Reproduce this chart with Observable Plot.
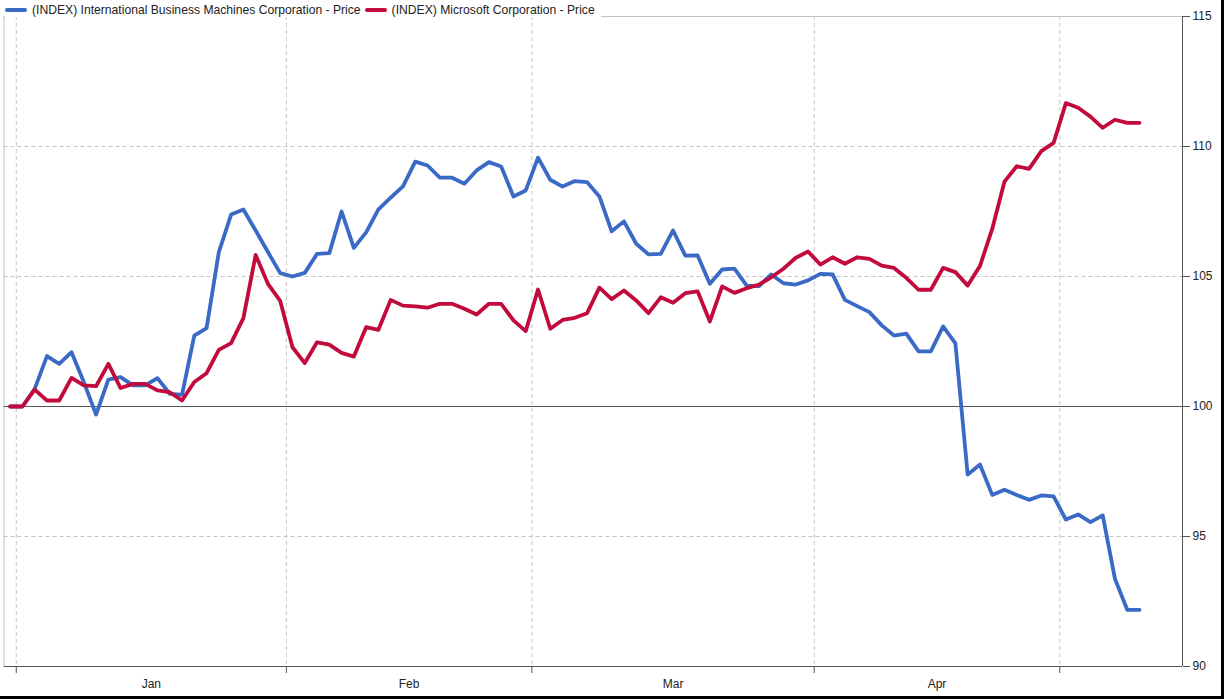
<!DOCTYPE html>
<html>
<head>
<meta charset="utf-8">
<script src="https://cdn.jsdelivr.net/npm/d3@7"></script>
<script src="https://cdn.jsdelivr.net/npm/@observablehq/plot@0.6"></script>
<style>
  html, body { margin: 0; padding: 0; background: #fff; }
  #wrap { position: relative; width: 1224px; height: 699px; box-sizing: border-box;
          border-right: 3px solid #000; border-bottom: 3px solid #000; overflow: hidden; }
  #legend { position: absolute; top: 3px; left: 5px; font: 12.15px "Liberation Sans", Arial, sans-serif;
            color: #222; white-space: nowrap; line-height: 14px; z-index: 2; background: #fff; padding-right: 2px; }
  #legend .sw { display: inline-block; width: 22px; height: 4px; border-radius: 2px; vertical-align: middle;
                margin-right: 5px; position: relative; top: -1px; }
  #legend .item { margin-right: 4px; }
</style>
</head>
<body>
<div id="wrap"><div id="legend"></div><div id="chart"></div></div>
<script>
// ---- data (rebased price index, one value per trading day) ----
const seriesNames = ["(INDEX) International Business Machines Corporation - Price",
                     "(INDEX) Microsoft Corporation - Price"];
const seriesColors = ["#3a6ac5", "#c20b3c"];

const ibm = [100, 100, 100.68, 101.94, 101.64, 102.09, 100.94, 99.69, 101.03, 101.13,
  100.81, 100.81, 101.09, 100.49, 100.45, 102.73, 103.01, 105.94, 107.38, 107.58,
  106.77, 105.94, 105.13, 105.0, 105.14, 105.87, 105.9, 107.5, 106.1, 106.7,
  107.58, 108.03, 108.47, 109.42, 109.27, 108.8, 108.8, 108.57, 109.08, 109.4,
  109.23, 108.08, 108.31, 109.57, 108.72, 108.46, 108.67, 108.63, 108.08, 106.74,
  107.12, 106.26, 105.85, 105.87, 106.77, 105.8, 105.81, 104.72, 105.27, 105.3,
  104.65, 104.63, 105.08, 104.74, 104.69, 104.85, 105.1, 105.08, 104.1, 103.86,
  103.63, 103.12, 102.73, 102.8, 102.12, 102.12, 103.08, 102.43, 97.38, 97.77,
  96.6, 96.8, 96.6, 96.41, 96.58, 96.54, 95.65, 95.85, 95.55, 95.81,
  93.37, 92.18, 92.18];

const msft = [100, 100, 100.65, 100.23, 100.23, 101.1, 100.81, 100.78, 101.64, 100.71,
  100.87, 100.87, 100.62, 100.55, 100.23, 100.94, 101.28, 102.18, 102.44, 103.4,
  105.83, 104.72, 104.06, 102.28, 101.67, 102.47, 102.38, 102.06, 101.92, 103.05,
  102.95, 104.1, 103.88, 103.85, 103.8, 103.95, 103.95, 103.76, 103.54, 103.95,
  103.95, 103.31, 102.9, 104.5, 102.99, 103.33, 103.41, 103.59, 104.57, 104.13,
  104.46, 104.08, 103.59, 104.2, 103.99, 104.36, 104.43, 103.27, 104.62, 104.37,
  104.55, 104.69, 104.97, 105.3, 105.72, 105.96, 105.46, 105.74, 105.49, 105.74,
  105.68, 105.42, 105.33, 104.95, 104.49, 104.49, 105.33, 105.17, 104.65, 105.4,
  106.83, 108.65, 109.24, 109.14, 109.82, 110.14, 111.67, 111.49, 111.15, 110.72,
  111.03, 110.91, 110.91];

// month boundaries (in trading-day index) and month labels
const monthBounds = [0.5, 22.5, 42.5, 65.5, 85.5];
const monthLabels = ["Jan", "Feb", "Mar", "Apr"];
const xDomain = [-0.5, 95.5];
const yDomain = [90, 115];
const yTicks = [90, 95, 100, 105, 110, 115];
const yGrid = [95, 105, 110];

// ---- build ----
const ibmData = ibm.map((v, i) => ({i, v}));
const msftData = msft.map((v, i) => ({i, v}));
const monthMid = monthLabels.map((_, k) => (monthBounds[k] + monthBounds[k + 1]) / 2);
const labelByMid = new Map(monthMid.map((m, k) => [m, monthLabels[k]]));

const legend = document.getElementById("legend");
seriesNames.forEach((n, k) => {
  const s = document.createElement("span");
  s.className = "item";
  s.innerHTML = `<span class="sw" style="background:${seriesColors[k]}"></span>`;
  s.appendChild(document.createTextNode(n));
  legend.appendChild(s);
});

const chart = Plot.plot({
  width: 1221,
  height: 696,
  marginLeft: 3.5,
  marginRight: 39,
  marginTop: 16,
  marginBottom: 30,
  style: {fontFamily: '"Liberation Sans", Arial, sans-serif', fontSize: "12px", color: "#222", background: "#fff"},
  x: {domain: xDomain, axis: null},
  y: {domain: yDomain, axis: null},
  marks: [
    Plot.ruleY(yGrid, {stroke: "#c4c4c4", strokeDasharray: "4,3"}),
    Plot.ruleX(monthBounds, {stroke: "#c4c4c4", strokeDasharray: "4,3"}),
    Plot.ruleY([yDomain[1]], {stroke: "#c4c4c4"}),
    Plot.ruleX([xDomain[0]], {stroke: "#c4c4c4"}),
    Plot.ruleY([100], {stroke: "#555"}),
    Plot.line(ibmData, {x: "i", y: "v", stroke: seriesColors[0], strokeWidth: 3.8}),
    Plot.line(msftData, {x: "i", y: "v", stroke: seriesColors[1], strokeWidth: 3.8}),
    Plot.ruleY([yDomain[0]], {stroke: "#555"}),
    Plot.ruleX([xDomain[1]], {stroke: "#555"}),
    Plot.axisY(yTicks, {anchor: "right", label: null, tickSize: 7, tickPadding: 3, stroke: "#555", fill: "#222", fontSize: 12}),
    Plot.axisX(monthBounds, {anchor: "bottom", label: null, tickSize: 7, tickFormat: () => "", stroke: "#555"}),
    Plot.axisX(monthMid, {anchor: "bottom", label: null, tickSize: 0, tickPadding: 13, tickFormat: d => labelByMid.get(d), fill: "#222", fontSize: 12})
  ]
});
document.getElementById("chart").appendChild(chart);
</script>
</body>
</html>
